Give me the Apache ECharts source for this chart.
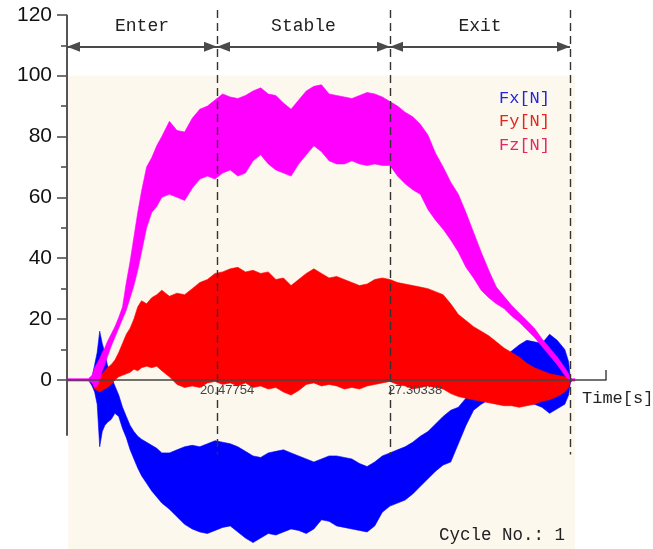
<!DOCTYPE html>
<html>
<head>
<meta charset="utf-8">
<title>Cycle No. 1</title>
<script src="https://cdn.jsdelivr.net/npm/echarts@6/dist/echarts.min.js"></script>
<style>
    html, body { margin: 0; padding: 0; background: #fff; }
    #chart { width: 653px; height: 549px; }
</style>
</head>
<body>
<div id="chart"></div>
<script>
// sample times [s]
var time = [14.6, 15.4, 15.55, 15.65, 15.75, 15.85, 15.95, 16.05, 16.15, 16.3, 16.45, 16.6, 16.75, 16.9, 17.05, 17.2, 17.35, 17.5, 17.7, 17.9, 18.1,
    18.3, 18.6, 18.9, 19.2, 19.5, 19.8, 20.1, 20.4, 20.7, 21.0, 21.3, 21.6, 21.9, 22.2, 22.5, 22.8, 23.1, 23.4, 23.7, 24.0, 24.3, 24.6, 24.9, 25.2,
    25.5, 25.8, 26.1, 26.4, 26.7, 27.0, 27.3, 27.6, 27.9, 28.2, 28.5, 28.8, 29.1, 29.4, 29.7, 30.0, 30.3, 30.6, 30.9, 31.2, 31.5, 31.8, 32.1, 32.4,
    32.7, 33.0, 33.3, 33.6, 33.9, 34.2, 34.35, 34.42, 34.5, 34.6];

// envelope of each force signal (lower / upper) [N]
var fxLow = [0, 0, -2, -4, -8, -22, -17, -15, -14, -13, -11, -12, -16, -19, -23, -26, -29, -31.5, -34, -36.5, -38.5,
    -40.5, -42.5, -45, -47.5, -49, -50, -50.5, -49.5, -48.5, -48, -50, -52, -53.5, -52, -50.5, -51, -50, -49, -49.5, -50.5, -49, -46, -46.5, -48,
    -48.5, -49, -49.5, -50, -48, -43.5, -41.5, -40.5, -39.5, -37.5, -35, -32.5, -30, -28, -27, -21, -15, -10, -8, -6.5, -6, -6, -6.5, -7,
    -7.5, -8, -9, -11, -9.5, -8, -5, -1, 0, 0];
var fxHigh = [0, 0, 1, 5, 9, 16, 12, 9, 5, 1, -2, -5, -9, -12, -15, -17, -18.5, -19.5, -20.5, -21.5, -22.5,
    -24, -24, -23, -22, -21.5, -22, -21, -20, -20.5, -21, -22, -23.5, -25, -25.5, -24, -23.5, -23, -24, -25, -26, -27, -26, -25, -25,
    -25.5, -26, -27.5, -28.5, -27, -25, -24, -23, -22, -20.5, -18.5, -17, -14.5, -12, -10, -9, -6, -3, 0, 3, 5, 7.5, 9.5, 11.5,
    13, 12.5, 12, 15, 13, 10, 6, 0.5, 0, 0];
var fyLow = [0, 0, -0.5, -3, -3.5, -4, -3.5, -3, -2.5, -1.5, 0, 1, 1.5, 2, 2.5, 3.5, 3, 4, 4.5, 4, 4.5,
    3, 1, -1.5, -2.5, -2, -2.5, -1, -0.5, -1.5, -1, -2, -1, -2.5, -2, -3, -2.5, -4, -5, -3.5, -1.5, -1, -2, -1.5, -2,
    -3, -2.5, -3, -2, -1.5, -1, -0.5, -1.5, -2, -3, -2.5, -2, -2.5, -3, -4.5, -5.5, -6, -6.5, -7, -7.5, -8, -8.5, -8.5, -9,
    -8.5, -8, -7, -6.5, -5.5, -4, -2.5, -0.5, 0, 0];
var fyHigh = [0, 0, 0.5, 0, 0, 1, 2, 3, 4, 5, 6.5, 9, 12, 15, 17, 20, 24, 26, 25, 27, 28,
    29.5, 27.5, 28.5, 28, 30, 32, 33, 35, 35.5, 36.5, 37, 35.5, 36, 35, 35.5, 33, 33.5, 31, 33, 35, 36.5, 35, 33.5, 34,
    33, 32, 31, 31.5, 33, 33.5, 33, 32, 31.5, 31, 30.5, 30, 29, 28, 25, 21.5, 19.5, 17.5, 16, 14.5, 12.5, 10.5, 9, 7.5,
    5.5, 4, 3, 2, 1.5, 1, 0.5, 0, 0, 0];
var fzLow = [-0.4, -0.4, -1, -2.5, -2, 0, 3, 5, 7.5, 11, 14, 17, 20, 23, 27, 31, 36, 42, 50, 55, 57,
    60, 61, 60, 59, 63, 66, 67, 66, 68, 69, 67, 68, 72, 74, 71, 69, 68, 67, 71, 74, 77, 75, 72, 71,
    71, 72, 71, 70.5, 71, 70.5, 70.5, 67, 64.5, 62.5, 61, 56, 52.5, 49.5, 46, 42, 37, 33.5, 29.5, 27, 25, 23.5, 21, 19,
    16.5, 14, 11, 8, 5, 1.5, 0, -0.5, -0.4, -0.4];
var fzHigh = [0.4, 0.4, 1.5, 4, 5.5, 7, 9, 10.5, 12.5, 15, 17.5, 20.5, 24, 32, 39, 47, 55, 62, 70, 73, 77,
    80, 85, 82, 81.5, 86, 89, 90, 92, 94, 93, 92.5, 93.5, 95, 96, 94, 93.5, 91, 89, 92, 95, 96.5, 97, 94, 93.5,
    93, 92.5, 93.5, 94.5, 94, 93, 91.5, 90, 88, 86.5, 84, 80.5, 74.5, 70, 65, 61, 55, 48.5, 42, 36, 30.5, 27.5, 24.5, 22,
    19.5, 17, 13.5, 10.5, 7.5, 4, 2, 0.5, 0.4, 0.4];

var yTicks = [0, 20, 40, 60, 80, 100, 120];
var yMinorTicks = [10, 30, 50, 70, 90, 110];
var xTickLabels = [20.47754, 27.30338];
var phaseNames = ['Enter', 'Stable', 'Exit'];
var phaseBounds = [14.5592, 20.47754, 27.30338, 34.405];
var legendNames = ['Fx[N]', 'Fy[N]', 'Fz[N]'];

var X_MIN = 14.5592, X_MAX = 35.8257, Y_MIN = -55.6, Y_MAX = 121.6;
var MONO = 'Liberation Mono';

var chart = echarts.init(document.getElementById('chart'));

// band between low/high envelope, drawn as one polygon
function bandSeries(name, low, high, color) {
    return {
        name: name,
        type: 'custom',
        silent: true,
        itemStyle: { color: color },
        data: time.map(function (t, i) { return [t, low[i], high[i]]; }),
        encode: { x: 0, y: [1, 2] },
        renderItem: function (params, api) {
            if (params.dataIndex !== 0) return null;
            var pts = [];
            for (var i = 0; i < time.length; i++) pts.push(api.coord([time[i], high[i]]));
            for (var j = time.length - 1; j >= 0; j--) pts.push(api.coord([time[j], low[j]]));
            return {
                type: 'polygon',
                shape: { points: pts },
                style: { fill: color, stroke: color, lineWidth: 0.6 }
            };
        }
    };
}

var markLines = [];
// y axis line (only down to a bit below zero)
markLines.push([
    { coord: [phaseBounds[0], 120], lineStyle: { type: 'solid', width: 2, color: '#555' } },
    { coord: [phaseBounds[0], -18.4] }
]);
// dashed phase boundaries
for (var i = 1; i < phaseBounds.length; i++) {
    markLines.push([
        { coord: [phaseBounds[i], Y_MAX], lineStyle: { type: [8, 5], width: 1.4, color: '#333' } },
        { coord: [phaseBounds[i], -24.5] }
    ]);
}
// double arrows with phase names
for (var k = 0; k < phaseNames.length; k++) {
    markLines.push([
        {
            coord: [phaseBounds[k], 109.5], name: phaseNames[k],
            symbol: 'triangle', symbolSize: [10, 13], symbolOffset: [0, 6.5],
            lineStyle: { type: 'solid', width: 2, color: '#4a4a4a' },
            label: {
                show: true, position: 'middle', formatter: '{b}', distance: 12,
                fontFamily: MONO, fontSize: 18, color: '#222'
            }
        },
        { coord: [phaseBounds[k + 1], 109.5], symbol: 'triangle', symbolSize: [10, 13], symbolOffset: [0, 6.5] }
    ]);
}

var option = {
    animation: false,
    backgroundColor: '#fff',
    grid: { left: 67, right: 47, top: 10, bottom: 0, containLabel: false, outerBoundsMode: 'none' },
    title: {
        text: 'Cycle No.: 1',
        right: 83, top: 521,
        textStyle: { fontFamily: MONO, fontSize: 17.5, fontWeight: 'normal', color: '#222' }
    },
    legend: {
        data: [
            { name: legendNames[0], textStyle: { color: '#2323e0' } },
            { name: legendNames[1], textStyle: { color: '#e2261e' } },
            { name: legendNames[2], textStyle: { color: '#e22866' } }
        ],
        orient: 'vertical',
        right: 98, top: 83,
        icon: 'none', itemWidth: 0, itemHeight: 14, itemGap: 3.5,
        selectedMode: false,
        textStyle: { fontFamily: MONO, fontSize: 17, lineHeight: 20 }
    },
    xAxis: {
        type: 'value', min: X_MIN, max: X_MAX, z: 10,
        axisLine: { onZero: false, lineStyle: { color: '#444', width: 1.5 } },
        splitLine: { show: false },
        axisTick: { show: true, customValues: [X_MAX], inside: true, length: 10, lineStyle: { color: '#444', width: 1.5 } },
        axisLabel: {
            customValues: xTickLabels, margin: 4,
            formatter: function (v) {
                return (v === xTickLabels[0] ? '{a|' : '{b|') + v.toFixed(5) + '}';
            },
            rich: {
                a: { fontFamily: 'Liberation Sans', fontSize: 13, color: '#444', padding: [0, 0, 0, 20] },
                b: { fontFamily: 'Liberation Sans', fontSize: 13, color: '#444', padding: [0, 0, 0, 50] }
            }
        },
        name: 'Time[s]', nameLocation: 'end', nameGap: -24,
        nameTextStyle: { fontFamily: MONO, fontSize: 17, color: '#222', align: 'left', verticalAlign: 'top', padding: [10, 0, 0, 0] }
    },
    yAxis: [{
        type: 'value', min: Y_MIN, max: Y_MAX,
        axisLine: { show: false },
        splitLine: { show: false },
        axisTick: { show: true, customValues: yTicks, length: 10, lineStyle: { color: '#444', width: 1.5 } },
        axisLabel: { customValues: yTicks, margin: 15, fontFamily: 'Liberation Sans', fontSize: 21, color: '#111' }
    }, {
        type: 'value', min: Y_MIN, max: Y_MAX, position: 'left',
        axisLine: { show: false },
        splitLine: { show: false },
        axisTick: { show: true, customValues: yMinorTicks, length: 6, lineStyle: { color: '#444', width: 1.5 } },
        axisLabel: { show: false }
    }],
    series: [
        {
            name: 'frame', type: 'line', data: [], clip: false, silent: true,
            markArea: {
                silent: true,
                itemStyle: { color: '#fcf8ee' },
                data: [[{ coord: [14.6, 100] }, { coord: [34.6, Y_MIN] }]]
            },
            markLine: {
                silent: true, symbol: ['none', 'none'],
                label: { show: false },
                data: markLines
            }
        },
        bandSeries(legendNames[0], fxLow, fxHigh, '#0000ff'),
        bandSeries(legendNames[1], fyLow, fyHigh, '#ff0000'),
        bandSeries(legendNames[2], fzLow, fzHigh, '#ff00ff')
    ]
};

chart.setOption(option);

// move the time axis (line, ticks, labels, name) up to the y = 0 level
var zeroPx = chart.convertToPixel({ yAxisIndex: 0 }, 0);
chart.setOption({ xAxis: { offset: zeroPx - chart.getHeight() } });
</script>
</body>
</html>
